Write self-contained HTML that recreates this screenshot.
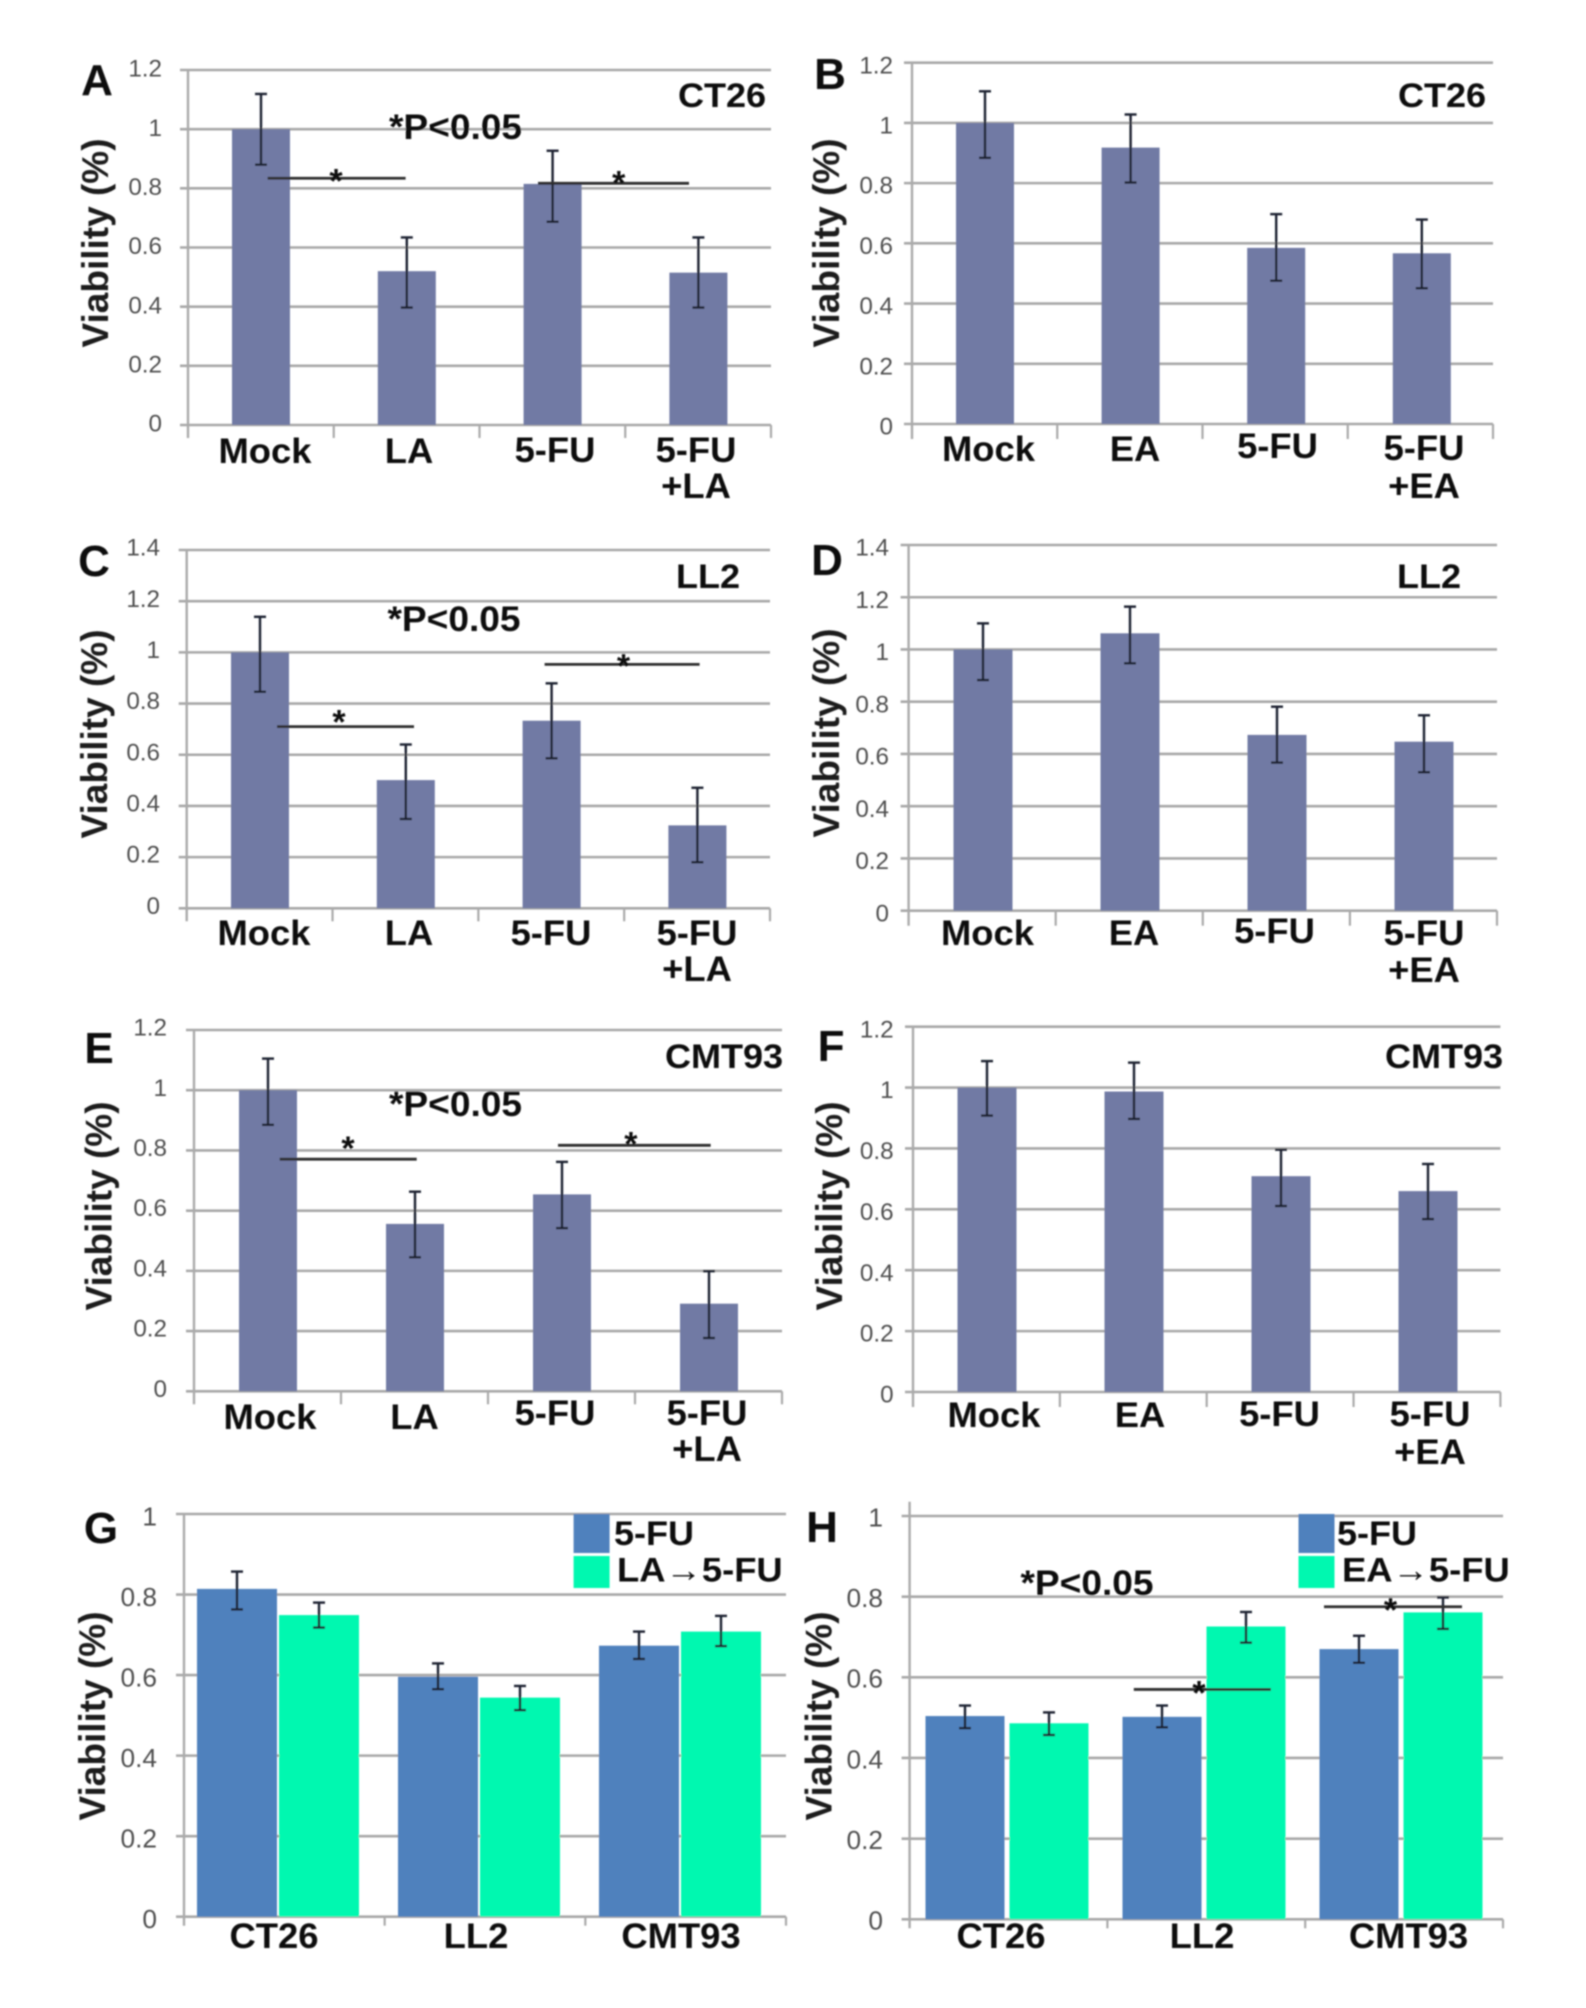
<!DOCTYPE html>
<html lang="en">
<head>
<meta charset="utf-8">
<title>Viability bar charts, panels A to H</title>
<style>
html,body{margin:0;padding:0;background:#fff;}
svg{display:block;}
text{font-family:"Liberation Sans",sans-serif;}
</style>
</head>
<body>
<svg id="figure" xmlns="http://www.w3.org/2000/svg" width="1586" height="2008" viewBox="0 0 1586 2008">
<defs><filter id="soft" x="0" y="0" width="100%" height="100%"><feGaussianBlur stdDeviation="0.8"/></filter></defs>
<rect width="1586" height="2008" fill="#fff"/>
<g id="stage" filter="url(#soft)"></g>
</svg>
<script>
// ---------- data ----------
const ticks12 = [0, 0.2, 0.4, 0.6, 0.8, 1, 1.2];
const ticks14 = [0, 0.2, 0.4, 0.6, 0.8, 1, 1.2, 1.4];
const ticks10 = [0, 0.2, 0.4, 0.6, 0.8, 1];
const tickLabels12 = ['0', '0.2', '0.4', '0.6', '0.8', '1', '1.2'];
const tickLabels14 = ['0', '0.2', '0.4', '0.6', '0.8', '1', '1.2', '1.4'];
const tickLabels10 = ['0', '0.2', '0.4', '0.6', '0.8', '1'];

const categoriesLA = ['Mock', 'LA', '5-FU', '5-FU\n+LA'];
const categoriesEA = ['Mock', 'EA', '5-FU', '5-FU\n+EA'];
const categoriesCells = ['CT26', 'LL2', 'CMT93'];

const panelAValues = [1, 0.52, 0.815, 0.515];
const panelAErrTop = [1.119, 0.634, 0.927, 0.634];
const panelAErrBottom = [0.88, 0.397, 0.687, 0.397];
const panelASigLevels = [0.834, 0.817];

const panelBValues = [1, 0.918, 0.585, 0.567];
const panelBErrTop = [1.105, 1.028, 0.697, 0.679];
const panelBErrBottom = [0.884, 0.802, 0.476, 0.451];

const panelCValues = [1, 0.501, 0.733, 0.324];
const panelCErrTop = [1.139, 0.64, 0.879, 0.471];
const panelCErrBottom = [0.846, 0.349, 0.586, 0.18];
const panelCSigLevels = [0.71, 0.953];

const panelDValues = [1, 1.062, 0.673, 0.647];
const panelDErrTop = [1.1, 1.164, 0.781, 0.748];
const panelDErrBottom = [0.883, 0.947, 0.567, 0.53];

const panelEValues = [1, 0.556, 0.654, 0.291];
const panelEErrTop = [1.105, 0.663, 0.762, 0.399];
const panelEErrBottom = [0.885, 0.445, 0.542, 0.177];
const panelESigLevels = [0.771, 0.817];

const panelFValues = [1, 0.987, 0.709, 0.66];
const panelFErrTop = [1.087, 1.082, 0.796, 0.749];
const panelFErrBottom = [0.908, 0.897, 0.611, 0.568];

const panelGFuValues = [0.814, 0.596, 0.673];
const panelGFuErrTop = [0.857, 0.629, 0.708];
const panelGFuErrBottom = [0.763, 0.565, 0.64];
const panelGComboValues = [0.749, 0.544, 0.708];
const panelGComboErrTop = [0.78, 0.573, 0.747];
const panelGComboErrBottom = [0.718, 0.513, 0.672];

const panelHFuValues = [0.504, 0.502, 0.67];
const panelHFuErrTop = [0.53, 0.53, 0.703];
const panelHFuErrBottom = [0.474, 0.476, 0.636];
const panelHComboValues = [0.486, 0.726, 0.761];
const panelHComboErrTop = [0.513, 0.762, 0.798];
const panelHComboErrBottom = [0.457, 0.686, 0.72];
const panelHSigLevels = [0.57, 0.775];

// ---------- drawing ----------
const SVG_NS = 'http://www.w3.org/2000/svg';
const stage = document.getElementById('stage');
const BAR_FILL = '#717aa4', BLUE_FILL = '#4f81bd', GREEN_FILL = '#03f8b0';

function mk(tag, parent, geometry) {
  const el = document.createElementNS(SVG_NS, tag);
  for (const k in geometry) el.setAttribute(k, geometry[k]);
  parent.appendChild(el);
  return el;
}
function seg(parent, x1, y1, x2, y2, stroke, width) {
  return mk('line', parent, {x1: x1, y1: y1, x2: x2, y2: y2, stroke: stroke, 'stroke-width': width});
}
function txt(parent, str, x, y, size, weight, fill, anchor, sx) {
  const t = mk('text', parent, {
    transform: 'translate(' + x + ' ' + y + ') scale(' + sx + ' 1)',
    'font-size': size, 'font-weight': weight, fill: fill, 'text-anchor': anchor
  });
  t.textContent = str;
  return t;
}

function drawPanel(p) {
  const g = mk('g', stage, {});
  
  

  const yScale = v => p.bottom - (v / p.max) * (p.bottom - p.top);
  const xScale = i => p.x0 + i * p.step;
  const tickSize = p.tickSize || 24;

  // gridlines + value tick labels
  p.ticks.forEach((v, i) => {
    const y = yScale(v);
    const grid = seg(g, p.left - 8, y, p.right, y, '#a8a8a8', 2.6);
    
    
    const lab = txt(g, p.tickLabels[i], p.tickRight, y + p.tickDy + tickSize * 0.358, tickSize, 400, '#4f4f4f', 'end', 1.01);
    
    
  });

  // axes
  const yAxis = seg(g, p.left, p.axisTop === undefined ? p.top : p.axisTop, p.left, p.bottom + p.tickLen, '#aaaaaa', 2.4);
  
  
  const n = p.categories.length;
  for (let i = 1; i <= n; i++) {
    const tx = p.left + i * (p.right - p.left) / n;
    const tk = seg(g, tx, p.bottom, tx, p.bottom + p.tickLen, '#aaaaaa', 2.2);
    
    
  }

  // bars + error bars
  p.series.forEach(s => {
    s.values.forEach((v, i) => {
      const cx = xScale(i) + s.offset;
      const bar = mk('rect', g, {x: cx - p.barW / 2, y: yScale(v), width: p.barW, height: p.bottom - yScale(v), fill: s.fill});
      
      
    });
  });
  p.series.forEach(s => {
    s.values.forEach((v, i) => {
      const cx = xScale(i) + s.offset;
      const eg = mk('g', g, {stroke: '#1d2230', 'stroke-width': 2.4});
      
      
      const yt = yScale(s.errTop[i]), yb = yScale(s.errBottom[i]);
      mk('line', eg, {x1: cx, y1: yt, x2: cx, y2: yb});
      mk('line', eg, {x1: cx - 6, y1: yt, x2: cx + 6, y2: yt});
      mk('line', eg, {x1: cx - 6, y1: yb, x2: cx + 6, y2: yb});
    });
  });

  // significance lines
  (p.sigLevels || []).forEach((level, i) => {
    const m = p.sig[i], y = yScale(level);
    const ln = seg(g, m.x1, y, m.x2, y, '#2f2f2f', 2.8);
    
    
    const st = txt(g, '*', m.starX, y + m.starDy + 19, 34, 700, '#111', 'middle', 1);
    
    
  });

  // category labels
  p.categories.forEach((c, i) => {
    c.split('\n').forEach((line, j) => {
      const lab = txt(g, line, p.catX[i], j === 0 ? p.catY[i] : p.catY2, 35, 700, '#0c0c0c', 'middle', 1.04);
      
      
    });
  });

  // y title
  const yt = mk('text', g, {
    transform: 'translate(' + p.yTitleX + ' ' + p.yTitleY + ') rotate(-90)',
    'font-size': 37, 'font-weight': 700, fill: '#1a1a1a', 'text-anchor': 'middle'
  });
  yt.textContent = 'Viability (%)';
  
  

  // panel letter
  const letter = txt(g, p.letter, p.letterX, p.letterY, 44, 700, '#0d0d0d', 'middle', 1);
  
  

  // cell-line title
  if (p.title) {
    const title = txt(g, p.title, p.titleX, p.titleY, 34, 700, '#0c0c0c', 'middle', 1.06);
    
    
  }

  // p-value note
  if (p.noteX) {
    const note = txt(g, '*P<0.05', p.noteX, p.noteY, 35, 700, '#0c0c0c', 'middle', 1.06);
    
    
  }

  // legend
  if (p.legend) {
    const lg = mk('g', g, {});
    
    
    const L = p.legend;
    const s1 = mk('rect', lg, {x: L.x, y: 1514, width: 36, height: 39, fill: BLUE_FILL});
    
    
    const s2 = mk('rect', lg, {x: L.x, y: 1556, width: 36, height: 32, fill: GREEN_FILL});
    
    
    const t1 = txt(lg, '5-FU', L.text1X, 1545, 34, 700, '#0c0c0c', 'start', 1.06);
    
    
    const t2 = txt(lg, L.comboLabel, L.text2X, 1581.5, 34, 700, '#0c0c0c', 'start', 1.07);
    
    
  }
}

drawPanel({
  letter: 'A', letterX: 97, letterY: 95, title: 'CT26', titleX: 722, titleY: 107,
  left: 188, right: 771, top: 70, bottom: 425, max: 1.2, tickLen: 13,
  ticks: ticks12, tickLabels: tickLabels12, tickRight: 162, tickDy: -2,
  x0: 261, step: 145.8, barW: 58, categories: categoriesLA,
  series: [{values: panelAValues, errTop: panelAErrTop, errBottom: panelAErrBottom, fill: BAR_FILL, offset: 0}],
  catX: [265, 409, 555, 696], catY: [463, 463, 462, 462], catY2: 498,
  yTitleX: 108, yTitleY: 243, noteX: 455.5, noteY: 139,
  sigLevels: panelASigLevels,
  sig: [{x1: 267.6, x2: 405.6, starX: 336, starDy: -5}, {x1: 538, x2: 689, starX: 618.7, starDy: -8}]
});
drawPanel({
  letter: 'B', letterX: 830, letterY: 89, title: 'CT26', titleX: 1442, titleY: 107,
  left: 912, right: 1493, top: 62.7, bottom: 424, max: 1.2, tickLen: 15,
  ticks: ticks12, tickLabels: tickLabels12, tickRight: 893, tickDy: 2,
  x0: 985, step: 145.6, barW: 58, categories: categoriesEA,
  series: [{values: panelBValues, errTop: panelBErrTop, errBottom: panelBErrBottom, fill: BAR_FILL, offset: 0}],
  catX: [988.5, 1135, 1277.5, 1424], catY: [461, 461, 458, 460], catY2: 498,
  yTitleX: 839, yTitleY: 243
});
drawPanel({
  letter: 'C', letterX: 94, letterY: 576, title: 'LL2', titleX: 708, titleY: 588,
  left: 186.7, right: 770, top: 550, bottom: 908.3, max: 1.4, tickLen: 13,
  ticks: ticks14, tickLabels: tickLabels14, tickRight: 160, tickDy: -3,
  x0: 260, step: 145.8, barW: 58, categories: categoriesLA,
  series: [{values: panelCValues, errTop: panelCErrTop, errBottom: panelCErrBottom, fill: BAR_FILL, offset: 0}],
  catX: [264, 409, 551, 697], catY: [945, 945, 945, 945], catY2: 981,
  yTitleX: 107, yTitleY: 734, noteX: 454, noteY: 631,
  sigLevels: panelCSigLevels,
  sig: [{x1: 277, x2: 414, starX: 339, starDy: -12}, {x1: 544.6, x2: 699.6, starX: 623.5, starDy: -6}]
});
drawPanel({
  letter: 'D', letterX: 827, letterY: 575, title: 'LL2', titleX: 1429, titleY: 588,
  left: 908.6, right: 1497, top: 545, bottom: 910.7, max: 1.4, tickLen: 15,
  ticks: ticks14, tickLabels: tickLabels14, tickRight: 889, tickDy: 2,
  x0: 983, step: 147, barW: 59, categories: categoriesEA,
  series: [{values: panelDValues, errTop: panelDErrTop, errBottom: panelDErrBottom, fill: BAR_FILL, offset: 0}],
  catX: [987.5, 1134, 1274.5, 1424], catY: [945, 945, 943, 945], catY2: 982,
  yTitleX: 839, yTitleY: 733
});
drawPanel({
  letter: 'E', letterX: 99, letterY: 1063, title: 'CMT93', titleX: 724, titleY: 1068,
  left: 194, right: 782, top: 1030, bottom: 1391.3, max: 1.2, tickLen: 13,
  ticks: ticks12, tickLabels: tickLabels12, tickRight: 167, tickDy: -3,
  x0: 268, step: 147, barW: 58, categories: categoriesLA,
  series: [{values: panelEValues, errTop: panelEErrTop, errBottom: panelEErrBottom, fill: BAR_FILL, offset: 0}],
  catX: [270, 414.5, 555, 707], catY: [1429, 1429, 1425, 1425], catY2: 1461,
  yTitleX: 111.5, yTitleY: 1206, noteX: 455.5, noteY: 1116,
  sigLevels: panelESigLevels,
  sig: [{x1: 279.7, x2: 416.7, starX: 348, starDy: -18}, {x1: 558, x2: 710.7, starX: 630.8, starDy: -9}]
});
drawPanel({
  letter: 'F', letterX: 831, letterY: 1061, title: 'CMT93', titleX: 1444, titleY: 1068,
  left: 913, right: 1500.4, top: 1026.7, bottom: 1392, max: 1.2, tickLen: 15,
  ticks: ticks12, tickLabels: tickLabels12, tickRight: 893.6, tickDy: 2,
  x0: 987, step: 147, barW: 59, categories: categoriesEA,
  series: [{values: panelFValues, errTop: panelFErrTop, errBottom: panelFErrBottom, fill: BAR_FILL, offset: 0}],
  catX: [994, 1140, 1279.5, 1430], catY: [1427, 1427, 1426, 1426], catY2: 1464,
  yTitleX: 842, yTitleY: 1206
});
drawPanel({
  letter: 'G', letterX: 101, letterY: 1543,
  left: 184, right: 786, top: 1514, bottom: 1916.7, max: 1, tickLen: 9,
  ticks: ticks10, tickLabels: tickLabels10, tickRight: 157, tickDy: 2, tickSize: 26,
  x0: 278, step: 201, barW: 80, categories: categoriesCells,
  series: [
    {values: panelGFuValues, errTop: panelGFuErrTop, errBottom: panelGFuErrBottom, fill: BLUE_FILL, offset: -41},
    {values: panelGComboValues, errTop: panelGComboErrTop, errBottom: panelGComboErrBottom, fill: GREEN_FILL, offset: 41}
  ],
  catX: [274, 476, 681], catY: [1948, 1948, 1948],
  yTitleX: 105, yTitleY: 1716,
  legend: {x: 573.6, text1X: 614, text2X: 617, comboLabel: 'LA\u21925-FU'}
});
drawPanel({
  letter: 'H', letterX: 822, letterY: 1542,
  left: 909.6, right: 1503, top: 1516, bottom: 1919.3, max: 1, tickLen: 9, axisTop: 1501.7,
  ticks: ticks10, tickLabels: tickLabels10, tickRight: 883, tickDy: 1, tickSize: 26,
  x0: 1007, step: 197, barW: 79, categories: categoriesCells,
  series: [
    {values: panelHFuValues, errTop: panelHFuErrTop, errBottom: panelHFuErrBottom, fill: BLUE_FILL, offset: -42},
    {values: panelHComboValues, errTop: panelHComboErrTop, errBottom: panelHComboErrBottom, fill: GREEN_FILL, offset: 42}
  ],
  catX: [1001, 1202, 1408.5], catY: [1948, 1948, 1948],
  yTitleX: 831.5, yTitleY: 1716, noteX: 1087, noteY: 1595,
  sigLevels: panelHSigLevels,
  sig: [{x1: 1133.8, x2: 1270.9, starX: 1199, starDy: -4}, {x1: 1324, x2: 1462, starX: 1390.5, starDy: -4}],
  legend: {x: 1298.5, text1X: 1337, text2X: 1342, comboLabel: 'EA\u21925-FU'}
});
</script>
</body>
</html>
